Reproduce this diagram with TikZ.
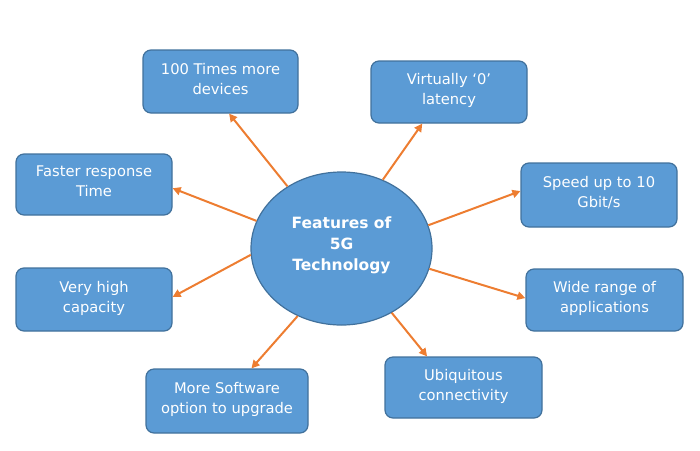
\documentclass[tikz,border=0pt]{standalone}
\usepackage{fontspec}
\setmainfont{DejaVu Sans}
\usetikzlibrary{shapes.geometric,calc,arrows.meta}
\definecolor{boxfill}{RGB}{91,155,213}
\definecolor{boxline}{RGB}{65,113,156}
\definecolor{arr}{RGB}{237,125,49}
\begin{document}
\begin{tikzpicture}[x=1pt,y=-1pt,
  feat/.style={draw=boxline, line width=1.2pt, fill=boxfill, rounded corners=8pt,
    text=white, align=center, inner sep=0pt, text depth=6pt,
    font=\fontsize{14.7}{20}\selectfont},
  hub/.style={ellipse, draw=boxline, line width=1.2pt, fill=boxfill, inner sep=0pt,
    text=white, align=center, text depth=9pt, font=\fontsize{15.5}{21}\selectfont\bfseries},
  conn/.style={draw=arr, line width=2pt, -{Triangle[length=8pt,width=8pt]}}]
\useasboundingbox (0,0) rectangle (700,450);
\node[hub, minimum width=181pt, minimum height=153pt] (c) at (341.5,248.5) {Features of\\5G\\Technology};
\node[feat, minimum width=155pt, minimum height=63pt] (b1) at (220.5,81.5) {100 Times more\\devices};
\node[feat, minimum width=156pt, minimum height=62pt] (b2) at (449,92) {Virtually ‘0’\\latency};
\node[feat, minimum width=156pt, minimum height=64pt] (b3) at (599,195) {Speed up to 10\\Gbit/s};
\node[feat, minimum width=157pt, minimum height=62pt] (b4) at (604.5,300) {Wide range of\\applications};
\node[feat, minimum width=156pt, minimum height=61pt] (b5) at (94,184.5) {Faster response\\Time};
\node[feat, minimum width=156pt, minimum height=63pt] (b6) at (94,299.5) {Very high\\capacity};
\node[feat, minimum width=162pt, minimum height=64pt] (b7) at (227,401) {More Software\\option to upgrade};
\node[feat, minimum width=157pt, minimum height=61pt] (b8) at (463.5,387.5) {Ubiquitous\\connectivity};
\draw[conn] (c.131) -- ($(b1.south west)!0.555!(b1.south east)$);
\draw[conn] (c.59) -- ($(b2.south west)!0.33!(b2.south east)$);
\draw[conn] (c.15) -- ($(b3.north west)!0.44!(b3.south west)$);
\draw[conn] (c.-13) -- ($(b4.north west)!0.47!(b4.south west)$);
\draw[conn] (c.162.6) -- ($(b5.north east)!0.56!(b5.south east)$);
\draw[conn] (c.184.7) -- ($(b6.north east)!0.46!(b6.south east)$);
\draw[conn] (c.237) -- ($(b7.north west)!0.65!(b7.north east)$);
\draw[conn] (c.308.6) -- ($(b8.north west)!0.27!(b8.north east)$);
\end{tikzpicture}
\end{document}
